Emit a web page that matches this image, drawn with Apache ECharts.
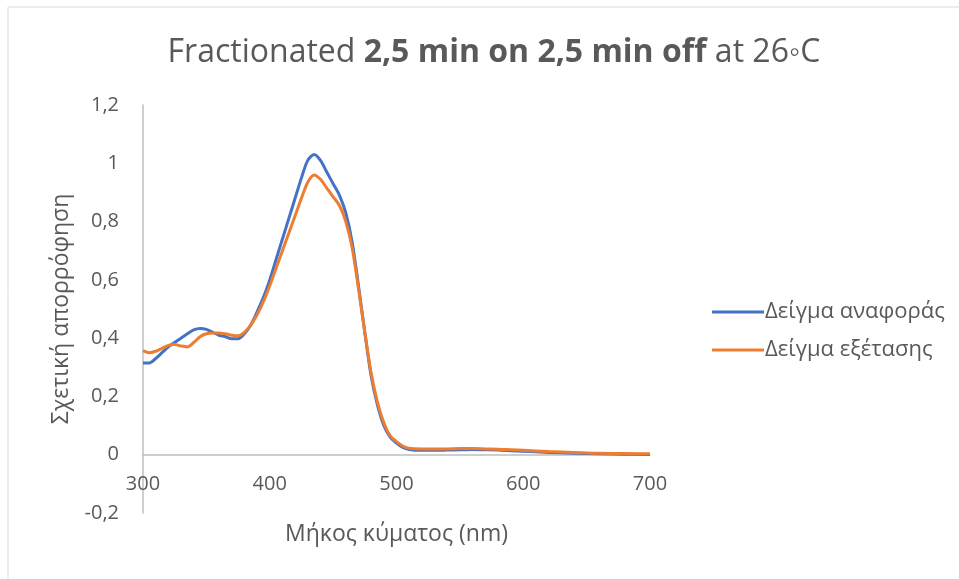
<!DOCTYPE html>
<html><head><meta charset="utf-8">
<script src="https://cdn.jsdelivr.net/npm/echarts@6/dist/echarts.min.js"></script>
<style>html,body{margin:0;padding:0;background:#fff}#c{width:959px;height:579px}</style>
</head><body><div id="c"></div>
<script>
const wavelengths = [300,305,310,315,320,325,330,335,340,345,350,355,360,365,370,375,380,385,390,395,400,405,410,415,420,425,430,435,440,445,450,455,460,465,470,475,480,485,490,495,500,505,510,520,530,540,550,560,570,580,590,600,620,640,660,680,700];
const reference = [0.315,0.315,0.33,0.35,0.37,0.385,0.40,0.415,0.428,0.433,0.43,0.42,0.41,0.405,0.398,0.398,0.415,0.445,0.49,0.54,0.60,0.67,0.74,0.81,0.88,0.95,1.01,1.03,1.01,0.97,0.93,0.89,0.83,0.73,0.58,0.42,0.27,0.17,0.10,0.06,0.04,0.025,0.018,0.015,0.015,0.016,0.017,0.018,0.017,0.016,0.014,0.012,0.008,0.005,0.003,0.002,0.001];
const test = [0.357,0.35,0.355,0.365,0.375,0.378,0.373,0.37,0.385,0.405,0.415,0.418,0.418,0.415,0.41,0.408,0.42,0.445,0.48,0.525,0.58,0.64,0.70,0.76,0.82,0.88,0.935,0.96,0.945,0.915,0.885,0.855,0.80,0.71,0.57,0.42,0.28,0.18,0.11,0.065,0.045,0.03,0.022,0.02,0.02,0.02,0.021,0.021,0.02,0.019,0.017,0.015,0.011,0.008,0.005,0.004,0.003];
const seriesNames = ['Δείγμα αναφοράς','Δείγμα εξέτασης'];
const yTicks = {min:-0.2, max:1.2, interval:0.2};
const xTicks = {min:300, max:700, interval:100};

const FONT = "'Open Sans', 'Noto Sans', sans-serif";
const chart = echarts.init(document.getElementById('c'));
chart.setOption({
  animation:false,
  backgroundColor:'#fff',
  title:{
    text:'{n|Fractionated }{b|2,5 min on 2,5 min off}{n| at 26◦C}',
    left:489, textAlign:'center', top:32,
    textStyle:{fontWeight:'normal', rich:{
      n:{fontSize:32, color:'#595959', fontWeight:'normal', fontFamily:FONT},
      b:{fontSize:32, color:'#595959', fontWeight:'bold', fontFamily:FONT}
    }}
  },
  legend:{
    orient:'vertical', left:707, top:296, itemGap:16,
    itemWidth:52, itemHeight:3, icon:'rect',
    textStyle:{fontSize:22, color:'#595959', fontFamily:FONT, padding:[0,0,0,-4]},
    data:seriesNames
  },
  grid:{left:143, right:309, top:105, bottom:66, containLabel:false, outerBoundsMode:'none'},
  xAxis:{
    type:'value', min:xTicks.min, max:xTicks.max, interval:xTicks.interval,
    axisLine:{onZero:true, lineStyle:{color:'#bfbfbf', width:1.5}},
    axisTick:{show:false}, splitLine:{show:false},
    axisLabel:{fontSize:20, color:'#595959', fontFamily:FONT, margin:-39},
    name:'Μήκος κύματος (nm)', nameLocation:'middle', nameGap:10,
    nameTextStyle:{fontSize:23, color:'#595959', fontFamily:FONT, verticalAlign:'top'}
  },
  yAxis:{
    type:'value', min:yTicks.min, max:yTicks.max, interval:yTicks.interval,
    axisLine:{show:true, onZero:false, lineStyle:{color:'#bfbfbf', width:1.5}},
    axisTick:{show:false}, splitLine:{show:false},
    axisLabel:{fontSize:20, color:'#595959', fontFamily:FONT, margin:24,
      formatter:v=>String(Math.round(v*10)/10).replace('.',',')},
    name:'Σχετική απορρόφηση', nameLocation:'middle', nameGap:70, nameRotate:90,
    nameTextStyle:{fontSize:23, color:'#595959', fontFamily:FONT}
  },
  series:[
    {name:seriesNames[0], type:'line', smooth:0.3, showSymbol:false,
     lineStyle:{color:'#4472C4', width:3}, itemStyle:{color:'#4472C4'},
     data:wavelengths.map((w,i)=>[w,reference[i]])},
    {name:seriesNames[1], type:'line', smooth:0.3, showSymbol:false,
     lineStyle:{color:'#ED7D31', width:3}, itemStyle:{color:'#ED7D31'},
     data:wavelengths.map((w,i)=>[w,test[i]])}
  ],
  graphic:[{type:'rect', shape:{x:8,y:7,width:1000,height:1000}, style:{fill:'none', stroke:'#d9d9d9', lineWidth:1}, silent:true}]
});
</script></body></html>
